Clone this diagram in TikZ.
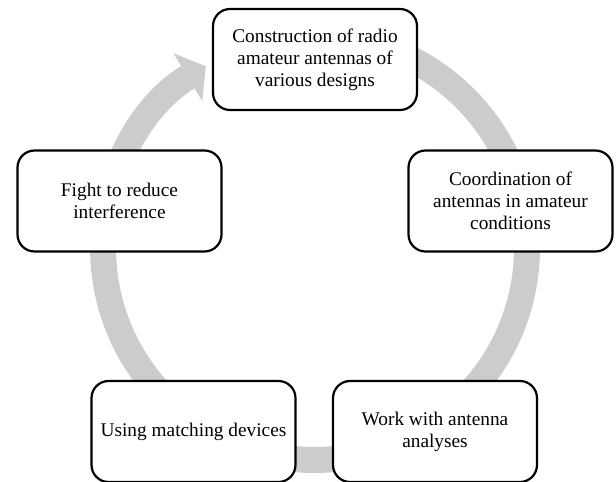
\documentclass[tikz,border=0pt]{standalone}
\usepackage{fontspec}
\setmainfont{Liberation Serif}
\usetikzlibrary{arrows.meta}

\begin{document}
\begin{tikzpicture}[x=0.02cm,y=0.02cm,ring/.style={line width=0.52cm,draw=black!20,-{Triangle[length=0.42cm,width=1.1cm]}},main box/.style={rectangle,rounded corners=0.34cm,draw,line width=1.25pt,fill=white,minimum width=4.08cm,minimum height=2.02cm,inner sep=0pt,align=center,font=\fontsize{11}{12.5}\selectfont}]
  \useasboundingbox (0,0) rectangle (616,-481);
  \coordinate (c) at (315,-248);

  % grey cycle arrow behind the boxes
  \draw[ring] (c) ++(95:4.24cm) arc[start angle=95,end angle=-239,radius=4.24cm];

  \node[main box] (1) at (315,-59.5) {Construction of radio\\amateur antennas of\\various designs};
  \node[main box] (2) at (510.5,-201) {Coordination of\\antennas in amateur\\conditions};
  \node[main box] (3) at (435,-431.5) {Work with antenna\\analyses};
  \node[main box] (4) at (193.5,-431.5) {Using matching devices};
  \node[main box] (5) at (119.5,-201) {Fight to reduce\\interference};
\end{tikzpicture}
\end{document}
